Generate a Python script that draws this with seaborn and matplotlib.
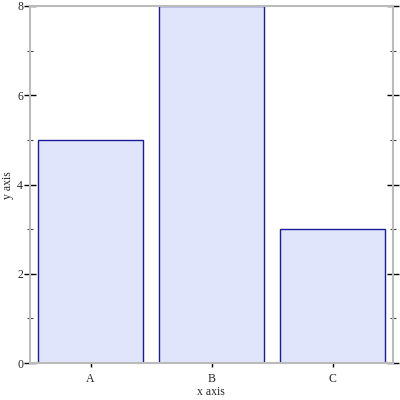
import matplotlib
matplotlib.use("Agg")
import matplotlib.pyplot as plt
import seaborn as sns
import pandas as pd
from matplotlib.ticker import MultipleLocator

categories = ["A", "B", "C"]
values = [5, 8, 3]

df = pd.DataFrame({"cat": categories, "val": values})

sns.set_style("white")
plt.rcParams["font.family"] = ["Liberation Serif", "DejaVu Serif"]

fig = plt.figure(figsize=(4, 4), dpi=100)
ax = fig.add_axes([0.075, 0.0925, 0.9075, 0.8925])

sns.barplot(
    data=df, x="cat", y="val", ax=ax, color="#e0e5fc", saturation=1,
    edgecolor="#1a1a9a", linewidth=1, width=0.875,
)

ax.set_xlim(-0.5, 2.5)
ax.set_ylim(0, 8)
ax.set_xlabel("")
ax.set_ylabel("")
fig.text(211 / 400, 1 - 392 / 400, "x axis", ha="center", va="center", fontsize=8.5)
fig.text(8 / 400, 1 - 185 / 400, "y axis", ha="center", va="center",
         rotation=90, fontsize=8.5)

for side in ["left", "right", "top", "bottom"]:
    ax.spines[side].set_visible(True)
    ax.spines[side].set_color("#bbbbbb")
    ax.spines[side].set_linewidth(1.5)

ax.yaxis.set_major_locator(MultipleLocator(2))
ax.yaxis.set_minor_locator(MultipleLocator(1))
ax.tick_params(axis="y", which="major", direction="inout", length=8, width=1,
               color="black", left=True, right=True, labelsize=8.5, pad=1)
ax.tick_params(axis="y", which="minor", direction="inout", length=5, width=0.8,
               color="#444444", left=True, right=True)
ax.tick_params(axis="x", which="major", direction="out", length=3, width=1,
               color="black", bottom=True, top=False, labelsize=8.5, pad=4)

fig.savefig("out.png", dpi=100)
